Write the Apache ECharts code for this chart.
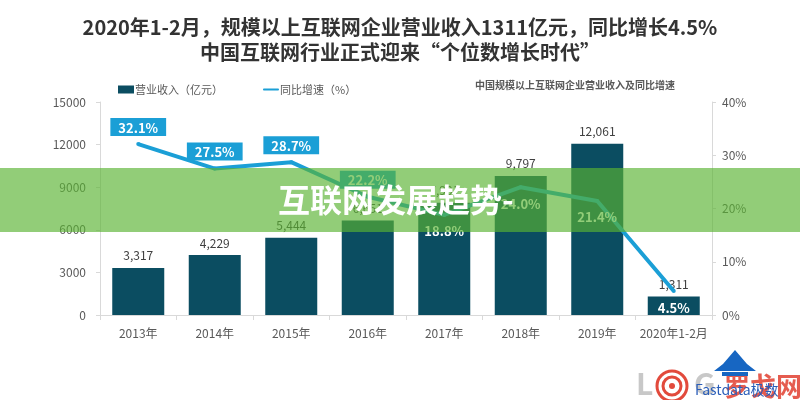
<!DOCTYPE html>
<html>
<head>
<meta charset="utf-8">
<style>
  html, body { margin: 0; padding: 0; background: #fff; }
  #main { width: 800px; height: 400px; }
</style>
<script src="https://cdn.jsdelivr.net/npm/echarts@6/dist/echarts.min.js"></script>
</head>
<body>
<div id="main"></div>
<script>
// data
var years = ['2013年', '2014年', '2015年', '2016年', '2017年', '2018年', '2019年', '2020年1-2月'];
var revenue = [3317, 4229, 5444, 6651, 7901, 9797, 12061, 1311];
var growth = [32.1, 27.5, 28.7, 22.2, 18.8, 24.0, 21.4, 4.5];

var barColor = '#0b4d61';
var lineColor = '#1b9fd6';
var font = '"Noto Sans CJK SC", "Noto Sans", sans-serif';

// first four labels sit above in a blue box, the rest below in white
var growthData = growth.map(function (v, i) {
    if (i < 4) {
        return {value: v, label: {show: true, position: 'top', distance: 6, backgroundColor: lineColor,
            padding: [3, 8, 2, 8], fontWeight: 'bold', color: '#fff'}};
    }
    return {value: v, label: {show: true, position: 'bottom', distance: i === 7 ? 9 : 8, color: '#fff', fontWeight: 'bold'}};
});

var axisText = {fontSize: 12, color: '#595959', fontFamily: font};

var chart = echarts.init(document.getElementById('main'));
chart.setOption({
    backgroundColor: '#fff',
    textStyle: {fontFamily: font},
    title: {
        text: '2020年1-2月，规模以上互联网企业营业收入1311亿元，同比增长4.5%\n中国互联网行业正式迎来“个位数增长时代”',
        left: 'center',
        top: 10,
        textStyle: {fontSize: 20, fontWeight: 'bold', color: '#333', lineHeight: 25, fontFamily: font}
    },
    legend: {
        left: 113,
        top: 79,
        itemGap: 40,
        itemWidth: 16,
        itemHeight: 8,
        textStyle: {fontSize: 11, color: '#595959', fontFamily: font, padding: [0, 0, 0, -4]},
        data: [
            {name: '营业收入（亿元）', icon: 'rect'},
            {name: '同比增速（%）', icon: 'path://M0,0 M1,3 L17,3 A1,1 0 0 1 17,5 L1,5 A1,1 0 0 1 1,3 Z M18,8'}
        ]
    },
    grid: {left: 100, right: 88, top: 102, bottom: 85},
    xAxis: {
        type: 'category',
        data: years,
        axisLine: {lineStyle: {color: '#d9d9d9'}},
        axisTick: {show: true, length: 5, lineStyle: {color: '#d9d9d9'}},
        axisLabel: Object.assign({interval: 0, margin: 12}, axisText)
    },
    yAxis: [{
        type: 'value',
        min: 0,
        max: 15000,
        interval: 3000,
        axisLine: {show: true, lineStyle: {color: '#d9d9d9'}},
        axisTick: {show: true, length: 4, lineStyle: {color: '#d9d9d9'}},
        splitLine: {show: false},
        axisLabel: Object.assign({margin: 14, formatter: function (v) { return String(v); }}, axisText)
    }, {
        type: 'value',
        min: 0,
        max: 40,
        interval: 10,
        axisLine: {show: true, lineStyle: {color: '#d9d9d9'}},
        axisTick: {show: true, length: 4, lineStyle: {color: '#d9d9d9'}},
        splitLine: {show: false},
        axisLabel: Object.assign({margin: 10, formatter: '{value}%'}, axisText)
    }],
    series: [{
        name: '营业收入（亿元）',
        type: 'bar',
        data: revenue,
        barWidth: 52,
        itemStyle: {color: barColor},
        label: {
            show: true, position: 'top', distance: 6, fontSize: 12, color: '#404040', fontFamily: font,
            formatter: function (p) { return p.value.toLocaleString('en-US'); }
        }
    }, {
        name: '同比增速（%）',
        type: 'line',
        yAxisIndex: 1,
        data: growthData,
        symbol: 'circle',
        symbolSize: 4,
        showSymbol: true,
        z: 3,
        lineStyle: {color: lineColor, width: 4},
        itemStyle: {color: lineColor},
        label: {show: true, fontSize: 13, fontFamily: font, formatter: function (p) { return p.value.toFixed(1) + '%'; }}
    }],
    graphic: [
        {type: 'text', left: 475, top: 80, z: 10,
         style: {text: '中国规模以上互联网企业营业收入及同比增速', font: 'bold 10px ' + font, fill: '#595959'}},
        // green banner across the middle
        {type: 'rect', shape: {x: 0, y: 168, width: 800, height: 64}, z: 100,
         style: {fill: 'rgba(90,179,50,0.66)'}},
        {type: 'text', x: 278, y: 200, z: 101,
         style: {text: '互联网发展趋势-', font: 'bold 32px ' + font, fill: '#fff', textVerticalAlign: 'middle'}},
        // watermark bottom right
        {type: 'text', x: 636, y: 384, z: 20,
         style: {text: 'L', font: 'bold 30px ' + font, fill: '#c8c8c8', textVerticalAlign: 'middle'}},
        {type: 'circle', shape: {cx: 672, cy: 386, r: 15}, z: 20, style: {fill: 'none', stroke: '#e24a3c', lineWidth: 3}},
        {type: 'circle', shape: {cx: 672, cy: 386, r: 9}, z: 20, style: {fill: 'none', stroke: '#e24a3c', lineWidth: 3}},
        {type: 'circle', shape: {cx: 672, cy: 386, r: 3}, z: 20, style: {fill: '#e24a3c'}},
        {type: 'text', x: 694, y: 384, z: 20,
         style: {text: 'G', font: 'bold 30px ' + font, fill: '#c8c8c8', textVerticalAlign: 'middle'}},
        {type: 'text', x: 724, y: 386, z: 20,
         style: {text: '罗戈网', font: 'bold 26px ' + font, fill: '#e24a3c', opacity: 0.9, textVerticalAlign: 'middle'}},
        {type: 'polygon', shape: {points: [[735, 350], [741, 357], [747, 364], [756, 371], [714, 371], [723, 364], [729, 357]]}, z: 21,
         style: {fill: '#1766c2'}},
        {type: 'rect', shape: {x: 722, y: 372, width: 26, height: 4}, z: 21, style: {fill: '#1766c2'}},
        {type: 'text', x: 695, y: 390, z: 22,
         style: {text: 'Fastdata极数', font: '14px ' + font, fill: '#2a5db8', textVerticalAlign: 'middle'}}
    ]
});
</script>
</body>
</html>
